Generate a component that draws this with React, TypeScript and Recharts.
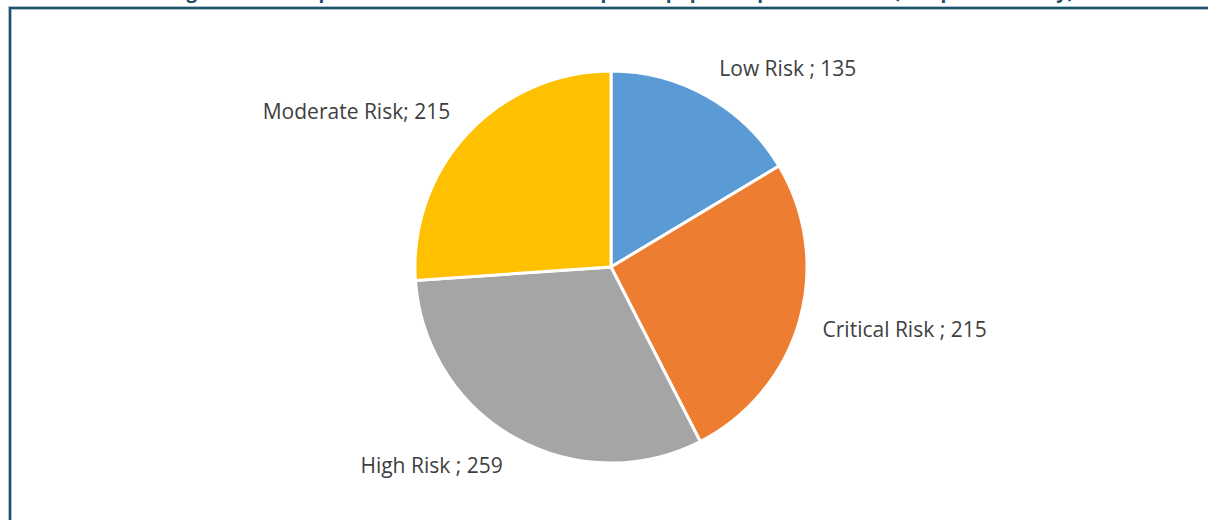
import React from "react";
import { Cell, Pie, PieChart } from "recharts";

/** Pie of risk classes — labels "name; value" placed outside the slices, no leader lines. */

const riskNames = ["Low Risk ", "Critical Risk ", "High Risk ", "Moderate Risk"];
const riskCounts = [135, 215, 259, 215];
const riskColors = ["#5B9BD5", "#ED7D31", "#A5A5A5", "#FFC000"];

const chartTitle =
  "Figure 10: Example of Risk Distribution of Hospital Equipment per Risk Level (Sample Inventory)";

const data = riskNames.map((name, i) => ({ name, value: riskCounts[i] }));

const RADIAN = Math.PI / 180;
const LABEL_FONT = 21;

function renderLabel(props: any) {
  const { cx, cy, midAngle, outerRadius, name, value } = props;
  const r = outerRadius + 24;
  const cos = Math.cos(-midAngle * RADIAN);
  const sin = Math.sin(-midAngle * RADIAN);
  const x = cx + r * cos;
  // centre of the caps, pushed away from the pie by half the text height
  const mid = cy + r * sin + sin * 8;
  return (
    <text
      x={x}
      y={mid + 7.5}
      fill="#404040"
      fontSize={LABEL_FONT}
      fontFamily="'Open Sans', sans-serif"
      textAnchor={cos >= 0 ? "start" : "end"}
    >
      {`${name}; ${value}`}
    </text>
  );
}

export default function App() {
  return (
    <div
      style={{
        position: "fixed",
        left: 0,
        top: 0,
        width: 1208,
        height: 520,
        overflow: "hidden",
        background: "#fff",
      }}
    >
      {/* title is cut off by the top of the frame; only its descenders show */}
      <div
        style={{
          position: "absolute",
          top: -19,
          left: 0,
          width: 1244,
          textAlign: "center",
          fontFamily: "'Open Sans', sans-serif",
          fontWeight: 700,
          fontSize: 19,
          lineHeight: "20px",
          color: "#1F4E64",
          whiteSpace: "nowrap",
        }}
      >
        {chartTitle}
      </div>
      <div
        style={{
          position: "absolute",
          left: 9,
          top: 7,
          width: 1260,
          height: 600,
          border: "2px solid #22516A",
          boxShadow: "0 0 0 1px #A9C2D1, inset 0 0 0 1px #A9C2D1",
        }}
      />
      <div style={{ position: "absolute", left: 0, top: 0 }}>
        <PieChart width={1208} height={520}>
          <Pie
            data={data}
            dataKey="value"
            nameKey="name"
            cx={606}
            cy={262}
            outerRadius={196}
            startAngle={90}
            endAngle={-270}
            stroke="#FFFFFF"
            strokeWidth={3}
            label={renderLabel}
            labelLine={false}
            isAnimationActive={false}
          >
            {data.map((d, i) => (
              <Cell key={d.name} fill={riskColors[i]} />
            ))}
          </Pie>
        </PieChart>
      </div>
    </div>
  );
}
